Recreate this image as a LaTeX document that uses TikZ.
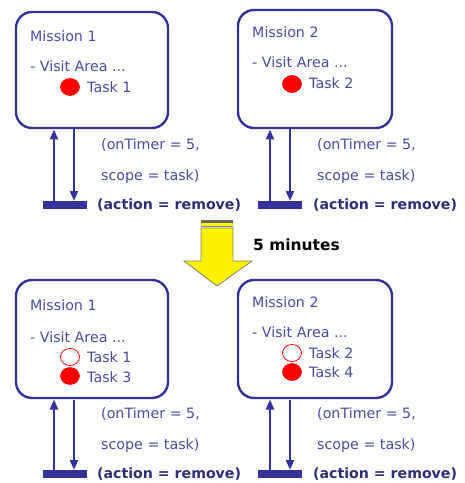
\documentclass[tikz,border=0pt]{standalone}
\usepackage{fontspec}
\setmainfont{DejaVu Sans}
\usetikzlibrary{arrows.meta}
\definecolor{navy}{HTML}{333399}
\definecolor{txt}{HTML}{4A4AA6}
\definecolor{boldtxt}{HTML}{2E2E78}
\definecolor{taskred}{HTML}{FF0000}
\begin{document}
\begin{tikzpicture}[x=1bp,y=-1bp,
  mission/.style={draw=navy,line width=2.4bp,rounded corners=16bp},
  lbl/.style={inner sep=0pt,anchor=base west,text=txt,font=\fontsize{14.3}{15}\selectfont},
  act/.style={inner sep=0pt,anchor=base west,text=boldtxt,font=\bfseries\fontsize{14.2}{15}\selectfont},
  full/.style={fill=taskred,draw=taskred,line width=0.6bp},
  open/.style={fill=white,draw=taskred,line width=0.8bp},
  conn/.style={draw=navy,line width=2.2bp,-{Triangle[length=10bp,width=8bp]}},
  barst/.style={fill=navy,draw=none},
  bigarrow/.style={fill=yellow,draw=gray,line width=0.8bp}]
\useasboundingbox (0,0) rectangle (465,483);

% Top left
\draw[mission] (16,12) rectangle (168,128);
\node[lbl] (m1) at (30,42) {Mission 1};
\node[lbl] (v1) at (30,72) {- Visit Area ...};
\path[full] (70,87) ellipse [x radius=9.5bp,y radius=8.5bp];
\node[lbl] (t1) at (87,93) {Task 1};
\fill[barst] (43,201) rectangle (87,209);
\coordinate (u1a) at (54,201); \coordinate (u1b) at (54,129.5);
\coordinate (d1a) at (74,129.5); \coordinate (d1b) at (74,201);
\draw[conn] (u1a) -- (u1b);
\draw[conn] (d1a) -- (d1b);
\node[lbl] (o1) at (101,150) {(onTimer = 5,};
\node[lbl] (s1) at (101,181) {scope = task)};
\node[act] (a1) at (97,209) {(action = remove)};

% Top right
\draw[mission] (238,10) rectangle (392,128);
\node[lbl] (m2) at (252,38) {Mission 2};
\node[lbl] (v2) at (252,68) {- Visit Area ...};
\path[full] (292,84) ellipse [x radius=9.5bp,y radius=8.5bp];
\node[lbl] (t2) at (309,89) {Task 2};
\fill[barst] (258,201) rectangle (302,209);
\coordinate (u2a) at (270,201); \coordinate (u2b) at (270,129.5);
\coordinate (d2a) at (290,129.5); \coordinate (d2b) at (290,201);
\draw[conn] (u2a) -- (u2b);
\draw[conn] (d2a) -- (d2b);
\node[lbl] (o2) at (317,150) {(onTimer = 5,};
\node[lbl] (s2) at (317,181) {scope = task)};
\node[act] (a2) at (313,209) {(action = remove)};

% Yellow arrow
\path[bigarrow] (201,228) -- (233,228) -- (233,261) -- (252,261) -- (217,286) -- (184,261) -- (201,261) -- cycle;
\fill[gray!80!black] (201,220) rectangle (233,223);
\fill[yellow] (201,223) rectangle (233,225.5);
\draw[gray,line width=0.8bp] (201,226) -- (233,226);
\node[inner sep=0pt,anchor=base west,font=\bfseries\fontsize{15.5}{16}\selectfont] (five) at (253,250) {5 minutes};

% Bottom left
\draw[mission] (16,280) rectangle (168,398);
\node[lbl] (m3) at (30,310) {Mission 1};
\node[lbl] (v3) at (30,342) {- Visit Area ...};
\path[open] (70,357) ellipse [x radius=9.5bp,y radius=8.5bp];
\node[lbl] (t3) at (87,362) {Task 1};
\path[full] (70,376) ellipse [x radius=9.5bp,y radius=8.5bp];
\node[lbl] (t4) at (87,382) {Task 3};
\fill[barst] (43,470) rectangle (87,478);
\coordinate (u3a) at (54,470); \coordinate (u3b) at (54,399.5);
\coordinate (d3a) at (74,399.5); \coordinate (d3b) at (74,470);
\draw[conn] (u3a) -- (u3b);
\draw[conn] (d3a) -- (d3b);
\node[lbl] (o3) at (101,418) {(onTimer = 5,};
\node[lbl] (s3) at (101,449) {scope = task)};
\node[act] (a3) at (97,478) {(action = remove)};

% Bottom right
\draw[mission] (238,280) rectangle (392,398);
\node[lbl] (m4) at (252,307) {Mission 2};
\node[lbl] (v4) at (252,337) {- Visit Area ...};
\path[open] (292,353) ellipse [x radius=9.5bp,y radius=8.5bp];
\node[lbl] (t5) at (309,358) {Task 2};
\path[full] (292,372) ellipse [x radius=9.5bp,y radius=8.5bp];
\node[lbl] (t6) at (309,377) {Task 4};
\fill[barst] (258,470) rectangle (302,478);
\coordinate (u4a) at (270,470); \coordinate (u4b) at (270,399.5);
\coordinate (d4a) at (290,399.5); \coordinate (d4b) at (290,470);
\draw[conn] (u4a) -- (u4b);
\draw[conn] (d4a) -- (d4b);
\node[lbl] (o4) at (317,418) {(onTimer = 5,};
\node[lbl] (s4) at (317,449) {scope = task)};
\node[act] (a4) at (313,478) {(action = remove)};
\end{tikzpicture}
\end{document}
